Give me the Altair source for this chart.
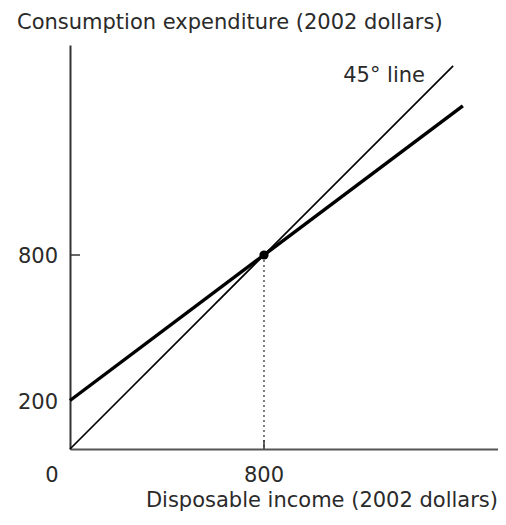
import altair as alt
import pandas as pd

# Data
income_45 = [0, 1580]
cons_45 = [0, 1580]
income_c = [0, 1620]
cons_c = [200, 1415]
point_x = [800]
point_y = [800]
y_ticks = [200, 800]
y_tick_labels = ["200", "800"]
x_ticks = [800]
x_tick_labels = ["800"]

FONT = "DejaVu Sans"
FS = 21
TXT = "#2a2a2a"
W, H = 428, 404
X_MAX = 1765
Y_MAX = 1666

xs = alt.Scale(domain=[0, X_MAX], nice=False, zero=False)
ys = alt.Scale(domain=[0, Y_MAX], nice=False, zero=False)

line45 = pd.DataFrame({"x": income_45, "y": cons_45})
linec = pd.DataFrame({"x": income_c, "y": cons_c})
pt = pd.DataFrame({"x": point_x, "y": point_y})

ax_x = alt.Axis(labels=False, ticks=False, grid=False, domainColor="#555",
                domainWidth=2, title=None)
ax_y = alt.Axis(labels=False, ticks=False, grid=False, domainColor="#333",
                domainWidth=2, title=None)

l45 = alt.Chart(line45).mark_line(color="black", strokeWidth=1.7).encode(
    x=alt.X("x:Q", scale=xs, axis=ax_x),
    y=alt.Y("y:Q", scale=ys, axis=ax_y),
)
lc = alt.Chart(linec).mark_line(color="black", strokeWidth=3.4).encode(
    x=alt.X("x:Q", scale=xs), y=alt.Y("y:Q", scale=ys)
)
dot = alt.Chart(pt).mark_point(filled=True, color="black", size=85, opacity=1).encode(
    x=alt.X("x:Q", scale=xs), y=alt.Y("y:Q", scale=ys)
)
drop = alt.Chart(pt).mark_rule(color="#555", strokeDash=[2, 3], strokeWidth=1.5).encode(
    x=alt.X("x:Q", scale=xs), y=alt.Y("y:Q", scale=ys), y2=alt.datum(0)
)
ytick = alt.Chart(pd.DataFrame({"y": [800]})).mark_rule(color="#333", strokeWidth=1.5).encode(
    y=alt.Y("y:Q", scale=ys), x=alt.value(0), x2=alt.value(10)
)
xtick = alt.Chart(pd.DataFrame({"x": [800]})).mark_rule(color="#333", strokeWidth=1.5).encode(
    x=alt.X("x:Q", scale=xs), y=alt.value(395), y2=alt.value(404)
)

ylabels = alt.Chart(pd.DataFrame({"v": y_ticks, "t": y_tick_labels})).mark_text(
    font=FONT, fontSize=FS, color=TXT, align="right", baseline="alphabetic", dy=8
).encode(y=alt.Y("v:Q", scale=ys), x=alt.value(-12), text="t:N")
xlabels = alt.Chart(pd.DataFrame({"v": x_ticks, "t": x_tick_labels})).mark_text(
    font=FONT, fontSize=FS, color=TXT, align="center", baseline="alphabetic"
).encode(x=alt.X("v:Q", scale=xs), y=alt.value(437), text="t:N")
origin = alt.Chart(pd.DataFrame({"t": ["0"]})).mark_text(
    font=FONT, fontSize=FS, color=TXT, align="center", baseline="alphabetic"
).encode(x=alt.value(-18), y=alt.value(437), text="t:N")

title_y = alt.Chart(pd.DataFrame({"t": ["Consumption expenditure (2002 dollars)"]})).mark_text(
    font=FONT, fontSize=FS, color=TXT, align="left", baseline="alphabetic"
).encode(x=alt.value(-53), y=alt.value(-16), text="t:N")
title_x = alt.Chart(pd.DataFrame({"t": ["Disposable income (2002 dollars)"]})).mark_text(
    font=FONT, fontSize=FS, color=TXT, align="right", baseline="alphabetic"
).encode(x=alt.value(W), y=alt.value(462), text="t:N")
lab45 = alt.Chart(pd.DataFrame({"t": ["45° line"]})).mark_text(
    font=FONT, fontSize=FS, color=TXT, align="right", baseline="alphabetic"
).encode(x=alt.value(355), y=alt.value(37), text="t:N")

chart = alt.layer(l45, lc, drop, dot, ytick, xtick, ylabels, xlabels, origin,
                  title_y, title_x, lab45).properties(
    width=W, height=H,
    autosize=alt.AutoSizeParams(type="none"),
    padding={"left": 62, "top": 37, "right": 0, "bottom": 62},
).configure_view(stroke=None)

chart.save("out.html", embed_options={"renderer": "svg", "actions": False})
